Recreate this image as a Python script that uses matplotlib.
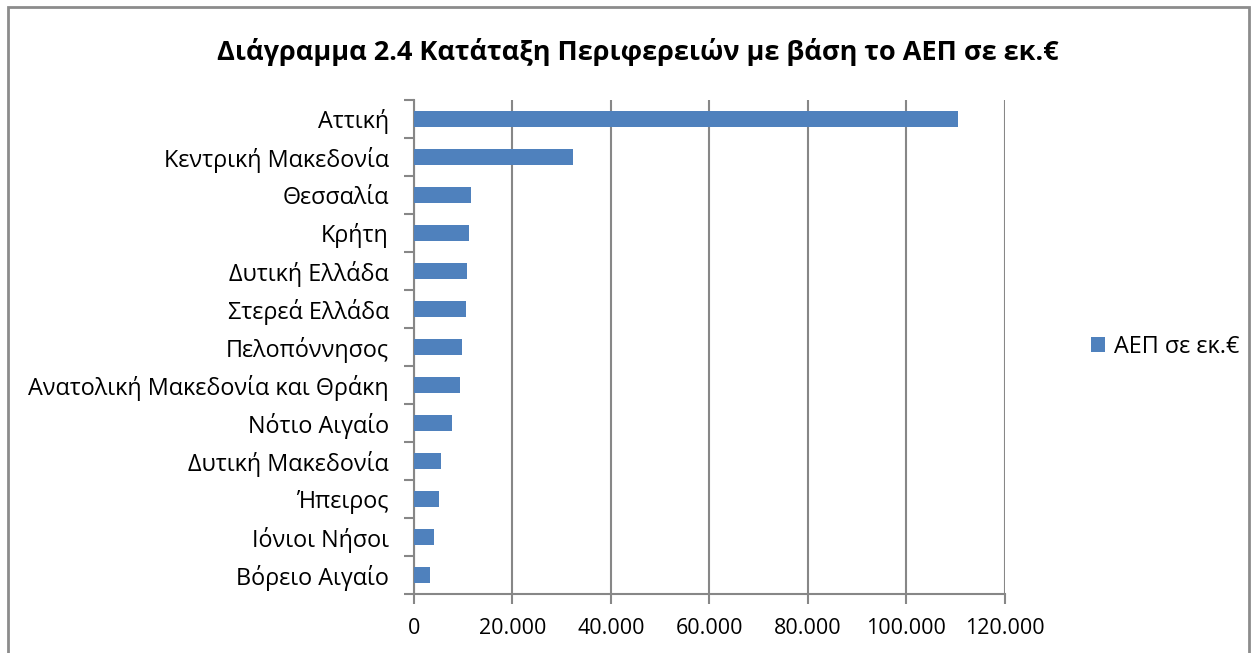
import numpy as np
import matplotlib
matplotlib.use('Agg')
import matplotlib.pyplot as plt
from matplotlib.patches import Rectangle
from matplotlib.ticker import FuncFormatter, FixedLocator

plt.rcParams['font.family'] = ['Open Sans', 'DejaVu Sans']

# data, top to bottom
regions = ['Αττική', 'Κεντρική Μακεδονία', 'Θεσσαλία', 'Κρήτη', 'Δυτική Ελλάδα',
           'Στερεά Ελλάδα', 'Πελοπόννησος', 'Ανατολική Μακεδονία και Θράκη',
           'Νότιο Αιγαίο', 'Δυτική Μακεδονία', 'Ήπειρος', 'Ιόνιοι Νήσοι', 'Βόρειο Αιγαίο']
gdp = [110500, 32200, 11650, 11250, 10700, 10500, 9800, 9270, 7650, 5480, 5080, 4130, 3310]
series_name = 'ΑΕΠ σε εκ.€'
title = 'Διάγραμμα 2.4 Κατάταξη Περιφερειών με βάση το ΑΕΠ σε εκ.€'

bar_color = '#4F81BD'
grid_color = '#878787'

fig = plt.figure(figsize=(12.56, 6.53), dpi=100)
ax = fig.add_axes([0.3296, 0.0904, 0.4705, 0.7566])

y = np.arange(len(regions))
ax.barh(y, gdp, height=0.41, color=bar_color, label=series_name, zorder=3)
ax.set_ylim(len(regions) - 0.5, -0.5)
ax.set_xlim(0, 120000)

ax.set_xticks(np.arange(0, 120001, 20000))
ax.xaxis.set_major_formatter(FuncFormatter(lambda v, p: f'{int(v):,}'.replace(',', '.')))
ax.set_yticks(y)
ax.set_yticklabels(regions)
ax.yaxis.set_minor_locator(FixedLocator(np.arange(-0.5, len(regions), 1)))

ax.grid(axis='x', color=grid_color, linewidth=1.5, zorder=0)
for s in ['top', 'right']:
    ax.spines[s].set_visible(False)
for s in ['left', 'bottom']:
    ax.spines[s].set_color(grid_color)
    ax.spines[s].set_linewidth(1.5)

ax.tick_params(axis='y', which='major', length=0, labelsize=16.8, pad=18)
ax.tick_params(axis='y', which='minor', length=7, width=1.5, color=grid_color)
ax.tick_params(axis='x', length=7, width=1.5, color=grid_color, labelsize=15.5, pad=10)

fig.text(0.508, 0.921, title, ha='center', va='center', fontsize=19.5, fontweight='bold')

leg = ax.legend(loc='center left', bbox_to_anchor=(1.11, 0.5), frameon=False,
                fontsize=16.8, handlelength=0.6, handleheight=0.6, handletextpad=0.4)

# chart border
fig.patches.append(Rectangle((0.0064, -0.05), 0.988, 1.039, transform=fig.transFigure,
                             fill=False, edgecolor='#8c8c8c', linewidth=2))

fig.savefig('out.png', dpi=100)
